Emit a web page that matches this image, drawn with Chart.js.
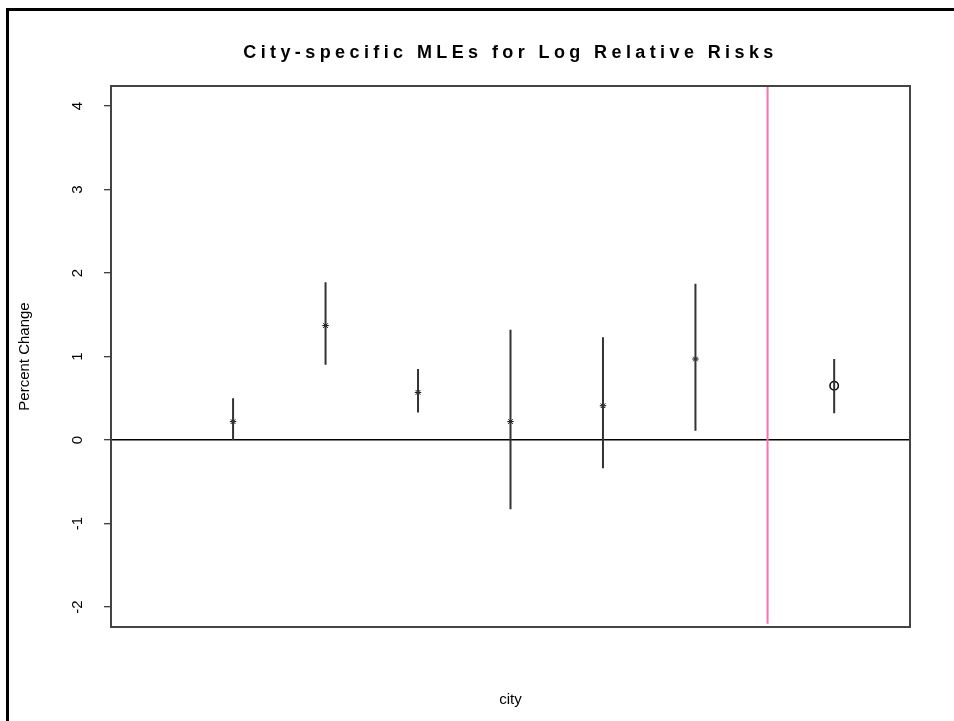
<!DOCTYPE html>
<html lang="en">
<head>
  <meta charset="UTF-8">
  <title>City-specific MLEs for Log Relative Risks</title>
  <script src="https://cdn.jsdelivr.net/npm/chart.js"></script>
  <style>
    html, body {
      margin: 0;
      padding: 0;
      background: white;
      overflow: hidden;
    }
    #wrap {
      position: relative;
      width: 954px;
      height: 721px;
    }
    /* outer figure frame, only top and left edges fall inside the window */
    #frame {
      position: absolute;
      left: 6px;
      top: 8px;
      width: 2000px;
      height: 2000px;
      border: 3px solid black;
    }
    canvas {
      position: absolute;
      left: 0;
      top: 0;
    }
  </style>
</head>
<body>
  <div id="wrap">
    <div id="frame"></div>
    <canvas id="mleChart" width="954" height="721"></canvas>
  </div>
  <script>
    // city index along the x axis
    const cities = [1, 2, 3, 4, 5, 6];
    // city-specific estimates and interval ends
    const est = [0.22, 1.37, 0.57, 0.22, 0.41, 0.97];
    const lower = [0.0, 0.90, 0.33, -0.83, -0.34, 0.11];
    const upper = [0.50, 1.89, 0.85, 1.32, 1.23, 1.87];
    // pooled estimate, drawn right of the separator
    const pooledX = [7.5];
    const pooledEst = [0.65];
    const pooledLower = [0.32];
    const pooledUpper = [0.97];
    // pink separator line
    const sepX = 6.78;
    const sepFrom = -2.2;
    // axes
    const xRange = [-0.32, 8.32];
    const yRange = [-2.24, 4.24];
    const yTicks = [-2, -1, 0, 1, 2, 3, 4];

    const titleText = 'City-specific MLEs for Log Relative Risks';
    const FONT = '"Liberation Sans", Arial, sans-serif';

    function barData(xs, lo, hi) {
      const pts = [];
      xs.forEach((x, i) => {
        pts.push({x: x, y: lo[i]});
        pts.push({x: x, y: hi[i]});
        pts.push({x: x, y: null});
      });
      return pts;
    }

    // box around the plotting region
    const boxPlugin = {
      id: 'box',
      afterDatasetsDraw(chart) {
        const a = chart.chartArea;
        const ctx = chart.ctx;
        ctx.save();
        ctx.strokeStyle = '#444';
        ctx.lineWidth = 2;
        ctx.strokeRect(a.left, a.top, a.right - a.left, a.bottom - a.top);
        ctx.restore();
      }
    };

    // spaced-out bold main title
    const titlePlugin = {
      id: 'spacedTitle',
      afterDraw(chart) {
        const a = chart.chartArea;
        const ctx = chart.ctx;
        ctx.save();
        ctx.font = 'bold 18px ' + FONT;
        ctx.letterSpacing = '4.4px';
        ctx.fillStyle = 'black';
        ctx.textAlign = 'center';
        ctx.textBaseline = 'middle';
        ctx.fillText(titleText, (a.left + a.right) / 2, 53);
        ctx.restore();
      }
    };

    const ctx = document.getElementById('mleChart').getContext('2d');
    new Chart(ctx, {
      type: 'scatter',
      data: {
        datasets: [
          {
            label: 'separator',
            data: [{x: sepX, y: sepFrom}, {x: sepX, y: yRange[1]}],
            showLine: true,
            borderColor: '#ff70b0',
            borderWidth: 2,
            pointRadius: 0
          },
          {
            label: 'intervals',
            data: barData(cities, lower, upper).concat(barData(pooledX, pooledLower, pooledUpper)),
            showLine: true,
            spanGaps: false,
            borderColor: '#333',
            borderWidth: 2,
            pointRadius: 0
          },
          {
            label: 'city MLE',
            data: cities.map((c, i) => ({x: c, y: est[i]})),
            pointStyle: 'star',
            pointRadius: 3.2,
            borderColor: 'black',
            borderWidth: 1,
            backgroundColor: 'black'
          },
          {
            label: 'pooled',
            data: pooledX.map((c, i) => ({x: c, y: pooledEst[i]})),
            pointStyle: 'circle',
            pointRadius: 4.2,
            borderColor: 'black',
            borderWidth: 1.5,
            backgroundColor: 'rgba(0,0,0,0)'
          }
        ]
      },
      options: {
        responsive: false,
        animation: false,
        devicePixelRatio: 1,
        layout: {
          padding: {top: 86, right: 44, bottom: 0, left: 0}
        },
        plugins: {
          legend: {display: false},
          tooltip: {enabled: false}
        },
        scales: {
          x: {
            type: 'linear',
            min: xRange[0],
            max: xRange[1],
            border: {display: false},
            grid: {display: false},
            ticks: {display: false},
            title: {
              display: true,
              text: 'city',
              color: 'black',
              font: {family: FONT, size: 15},
              padding: {top: 0, bottom: 12}
            },
            afterFit(scale) { scale.height = 94; }
          },
          y: {
            type: 'linear',
            min: yRange[0],
            max: yRange[1],
            border: {display: false},
            afterBuildTicks(scale) {
              scale.ticks = yTicks.map(v => ({value: v}));
            },
            grid: {
              drawOnChartArea: true,
              color: c => (c.tick && c.tick.value === 0 ? 'black' : 'rgba(0,0,0,0)'),
              lineWidth: 1.5,
              tickColor: 'black',
              tickLength: 7,
              tickWidth: 1
            },
            ticks: {
              color: 'black',
              font: {family: FONT, size: 15},
              minRotation: 90,
              maxRotation: 90,
              crossAlign: 'center',
              padding: 19
            },
            title: {
              display: true,
              text: 'Percent Change',
              color: 'black',
              font: {family: FONT, size: 15},
              padding: {top: 16, bottom: 0}
            },
            afterFit(scale) { scale.width = 111; }
          }
        }
      },
      plugins: [boxPlugin, titlePlugin]
    });
  </script>
</body>
</html>
